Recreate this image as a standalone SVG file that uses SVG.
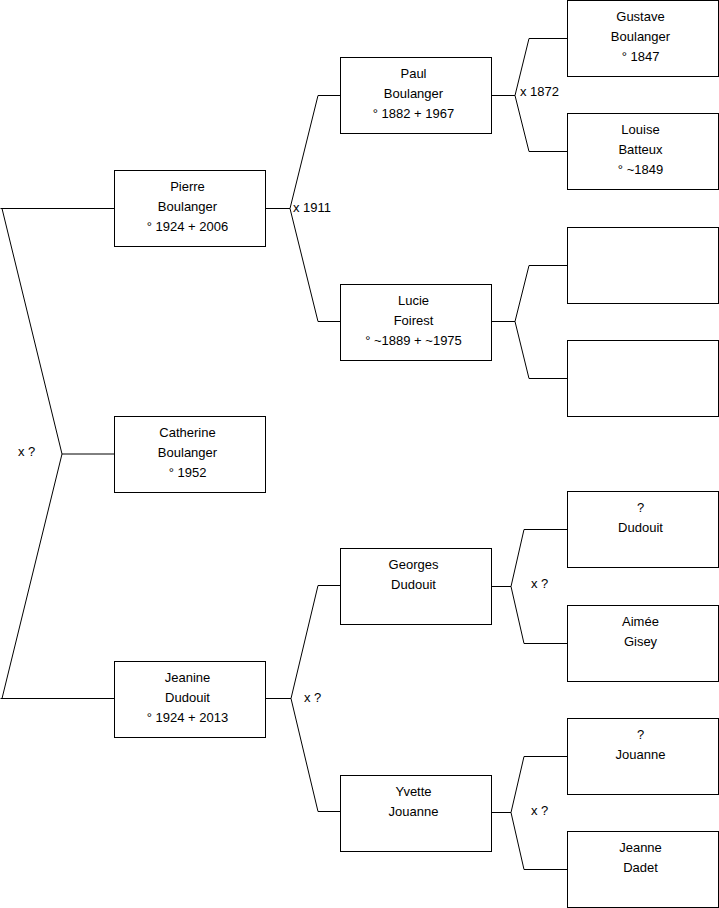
<svg xmlns="http://www.w3.org/2000/svg" width="719" height="908" viewBox="0 0 719 908">
<style>
.box{fill:#fff;stroke:#000;stroke-width:1}
.c{fill:none;stroke:#000;stroke-width:1}
text{font-family:"Liberation Sans",Arial,sans-serif;font-size:13px;fill:#000}
.t{text-anchor:middle}
</style>
<rect width="719" height="908" fill="#fff"/>
<g id="connectors">
<path class="c" d="M114,208.5 H0.5 M2,208.5 L62,454 L2,698.5 M0.5,698.5 H114 M62,454 H114"/>
<path class="c" d="M265,208.5 H290 M318,95.5 H340 M318,321.5 H340 M318,95.5 L290,208.5 L318,321.5"/>
<path class="c" d="M491,95.5 H515 M567,38.5 H529 L515,95.5 L529,151.5 H567"/>
<path class="c" d="M491,321.5 H515 M567,265.5 H529 L515,321.5 L529,378.5 H567"/>
<path class="c" d="M265,698.5 H291 M340,585.5 H318 L291,698.5 L318,811.5 H340"/>
<path class="c" d="M491,586.5 H511 M567,529.5 H524 L511,586.5 L524,643.5 H567"/>
<path class="c" d="M491,812.5 H511 M567,756.5 H524 L511,812.5 L524,869.5 H567"/>
<text x="18" y="456">x ?</text>
<text x="293" y="212">x 1911</text>
<text x="520" y="96">x 1872</text>
<text x="304" y="702">x ?</text>
<text x="531" y="588">x ?</text>
<text x="531" y="815">x ?</text>
</g>
<g id="pierre"><rect class="box" x="114.5" y="170.5" width="151" height="76"/><text class="t" x="187.5" y="191">Pierre</text><text class="t" x="187.5" y="211">Boulanger</text><text class="t" x="187.5" y="231">° 1924 + 2006</text></g>
<g id="catherine"><rect class="box" x="114.5" y="416.5" width="151" height="76"/><text class="t" x="187.5" y="437">Catherine</text><text class="t" x="187.5" y="457">Boulanger</text><text class="t" x="187.5" y="477">° 1952</text></g>
<g id="jeanine"><rect class="box" x="114.5" y="661.5" width="151" height="76"/><text class="t" x="187.5" y="682">Jeanine</text><text class="t" x="187.5" y="702">Dudouit</text><text class="t" x="187.5" y="722">° 1924 + 2013</text></g>
<g id="paul"><rect class="box" x="340.5" y="57.5" width="151" height="76"/><text class="t" x="413.5" y="78">Paul</text><text class="t" x="413.5" y="98">Boulanger</text><text class="t" x="413.5" y="118">° 1882 + 1967</text></g>
<g id="lucie"><rect class="box" x="340.5" y="284.5" width="151" height="76"/><text class="t" x="413.5" y="305">Lucie</text><text class="t" x="413.5" y="325">Foirest</text><text class="t" x="413.5" y="345">° ~1889 + ~1975</text></g>
<g id="georges"><rect class="box" x="340.5" y="548.5" width="151" height="76"/><text class="t" x="413.5" y="569">Georges</text><text class="t" x="413.5" y="589">Dudouit</text></g>
<g id="yvette"><rect class="box" x="340.5" y="775.5" width="151" height="76"/><text class="t" x="413.5" y="796">Yvette</text><text class="t" x="413.5" y="816">Jouanne</text></g>
<g id="gustave"><rect class="box" x="567.5" y="0.5" width="151" height="76"/><text class="t" x="640.5" y="21">Gustave</text><text class="t" x="640.5" y="41">Boulanger</text><text class="t" x="640.5" y="61">° 1847</text></g>
<g id="louise"><rect class="box" x="567.5" y="113.5" width="151" height="76"/><text class="t" x="640.5" y="134">Louise</text><text class="t" x="640.5" y="154">Batteux</text><text class="t" x="640.5" y="174">° ~1849</text></g>
<g id="empty1"><rect class="box" x="567.5" y="227.5" width="151" height="76"/></g>
<g id="empty2"><rect class="box" x="567.5" y="340.5" width="151" height="76"/></g>
<g id="dudouit"><rect class="box" x="567.5" y="491.5" width="151" height="76"/><text class="t" x="640.5" y="512">?</text><text class="t" x="640.5" y="532">Dudouit</text></g>
<g id="aimee"><rect class="box" x="567.5" y="605.5" width="151" height="76"/><text class="t" x="640.5" y="626">Aimée</text><text class="t" x="640.5" y="646">Gisey</text></g>
<g id="jouanne"><rect class="box" x="567.5" y="718.5" width="151" height="76"/><text class="t" x="640.5" y="739">?</text><text class="t" x="640.5" y="759">Jouanne</text></g>
<g id="jeanne"><rect class="box" x="567.5" y="831.5" width="151" height="76"/><text class="t" x="640.5" y="852">Jeanne</text><text class="t" x="640.5" y="872">Dadet</text></g>
</svg>
